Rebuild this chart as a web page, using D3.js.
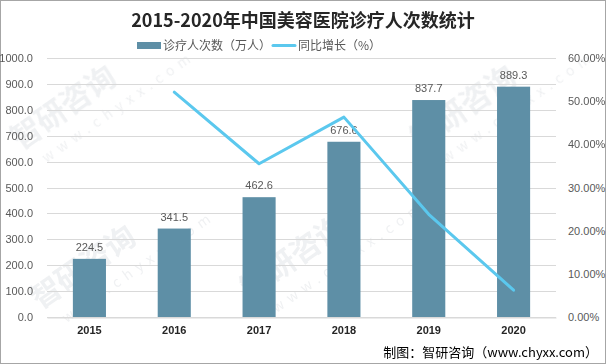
<!DOCTYPE html>
<html><head><meta charset="utf-8">
<script src="https://cdn.jsdelivr.net/npm/d3@7"></script>
<style>body{margin:0;background:#fff}svg{display:block}</style>
</head><body>
<svg id="c" width="606" height="364"></svg>
<script>
const years = ["2015","2016","2017","2018","2019","2020"];
const visits = [224.5, 341.5, 462.6, 676.6, 837.7, 889.3];
const growth = [null, 52.1, 35.5, 46.3, 23.8, 6.2];
const leftTicks = [0,100,200,300,400,500,600,700,800,900,1000];
const rightTicks = [0,10,20,30,40,50,60];

const svg = d3.select("#c");
const W = 606, H = 364;
const m = {l:47, r:50, t:58, b:47};
const x = d3.scaleBand().domain(years).range([m.l, W - m.r]).paddingInner(0.61).paddingOuter(0.305);
const xc = d3.scaleBand().domain(years).range([m.l, W - m.r]);
const y = d3.scaleLinear().domain([0,1000]).range([H - m.b, m.t]);
const y2 = d3.scaleLinear().domain([0,60]).range([H - m.b, m.t]);

// border
svg.append("rect").attr("x",0.5).attr("y",0.5).attr("width",W-1).attr("height",H-1)
  .attr("fill","#fff").attr("stroke","#a6a6a6");

// watermarks (faint)
const wm = svg.append("g").attr("fill","#b8bec6").attr("opacity",0.22)
  .attr("font-family","'Noto Sans CJK SC'").attr("font-weight","bold");
[[40,310],[250,300],[420,150],[20,150]].forEach(p=>{
  const g = wm.append("g").attr("transform",`translate(${p[0]},${p[1]}) rotate(-35)`);
  g.append("text").attr("font-size",30).text("智研咨询");
  g.append("text").attr("y",26).attr("x",14).attr("font-size",14).attr("font-weight","normal")
    .attr("letter-spacing",6).text("www.chyxx.com");
});

// grid
svg.append("g").selectAll("line").data(leftTicks).join("line")
  .attr("x1",m.l).attr("x2",W-m.r).attr("y1",d=>Math.round(y(d))+0.5).attr("y2",d=>Math.round(y(d))+0.5)
  .attr("stroke","#d9d9d9").attr("stroke-width",1);

// left axis
const la = svg.append("g").attr("transform",`translate(${m.l-11},0)`)
  .call(d3.axisLeft(y).tickValues(leftTicks).tickFormat(d=>d.toFixed(1)).tickSize(0));
la.select(".domain").remove();
la.selectAll("text").attr("fill","#595959").attr("font-size",11).attr("font-family","'Liberation Sans', Arial, sans-serif");

// right axis
const ra = svg.append("g").attr("transform",`translate(${W-m.r+9},0)`)
  .call(d3.axisRight(y2).tickValues(rightTicks).tickFormat(d=>d.toFixed(2)+"%").tickSize(0));
ra.select(".domain").remove();
ra.selectAll("text").attr("fill","#595959").attr("font-size",11).attr("font-family","'Liberation Sans', Arial, sans-serif");

// bars
svg.append("g").selectAll("rect").data(visits).join("rect")
  .attr("x",(d,i)=>x(years[i])).attr("width",x.bandwidth())
  .attr("y",d=>y(d)).attr("height",d=>y(0)-y(d)).attr("fill","#5e8fa6");

// bar labels
svg.append("g").selectAll("text").data(visits).join("text")
  .attr("x",(d,i)=>x(years[i])+x.bandwidth()/2).attr("y",d=>y(d)-8)
  .attr("text-anchor","middle").attr("fill","#595959").attr("font-size",11)
  .attr("font-family","'Liberation Sans', Arial, sans-serif").text(d=>d.toFixed(1));

// x axis
const xa = svg.append("g").attr("transform",`translate(0,${Math.round(y(0))+0.5})`)
  .call(d3.axisBottom(xc).tickSize(0).tickPadding(9));
xa.select(".domain").attr("stroke","#d9d9d9");
xa.selectAll("text").attr("fill","#262626").attr("font-size",11).attr("font-weight","bold")
  .attr("font-family","'Liberation Sans', Arial, sans-serif");

// line
const pts = growth.map((g,i)=>g==null?null:[xc(years[i])+xc.bandwidth()/2, y2(g)]).filter(p=>p);
svg.append("path").attr("d", d3.line().curve(d3.curveLinear)(pts))
  .attr("fill","none").attr("stroke","#5bc8ee").attr("stroke-width",3)
  .attr("stroke-linejoin","round").attr("stroke-linecap","round");

// title
svg.append("text").attr("x",W/2).attr("y",27).attr("text-anchor","middle")
  .attr("font-size",18).attr("font-weight","bold").attr("fill","#262626")
  .attr("font-family","'Noto Sans CJK SC', sans-serif").text("2015-2020年中国美容医院诊疗人次数统计");

// legend
const lg = svg.append("g").attr("font-family","'Noto Sans CJK SC', sans-serif").attr("font-size",12).attr("fill","#595959");
lg.append("rect").attr("x",137).attr("y",42).attr("width",24).attr("height",7).attr("fill","#5e8fa6");
lg.append("text").attr("x",163).attr("y",50).attr("fill","#595959").text("诊疗人次数（万人）");
lg.append("line").attr("x1",273).attr("x2",295).attr("y1",45.5).attr("y2",45.5)
  .attr("stroke","#5bc8ee").attr("stroke-width",3).attr("stroke-linecap","round");
lg.append("text").attr("x",298).attr("y",50).attr("fill","#595959").text("同比增长（%）");

// source
svg.append("text").attr("x",598).attr("y",357).attr("text-anchor","end")
  .attr("font-size",13).attr("fill","#000").attr("font-family","'Noto Sans CJK SC', sans-serif")
  .text("制图：智研咨询（www.chyxx.com）");
</script>
</body></html>
